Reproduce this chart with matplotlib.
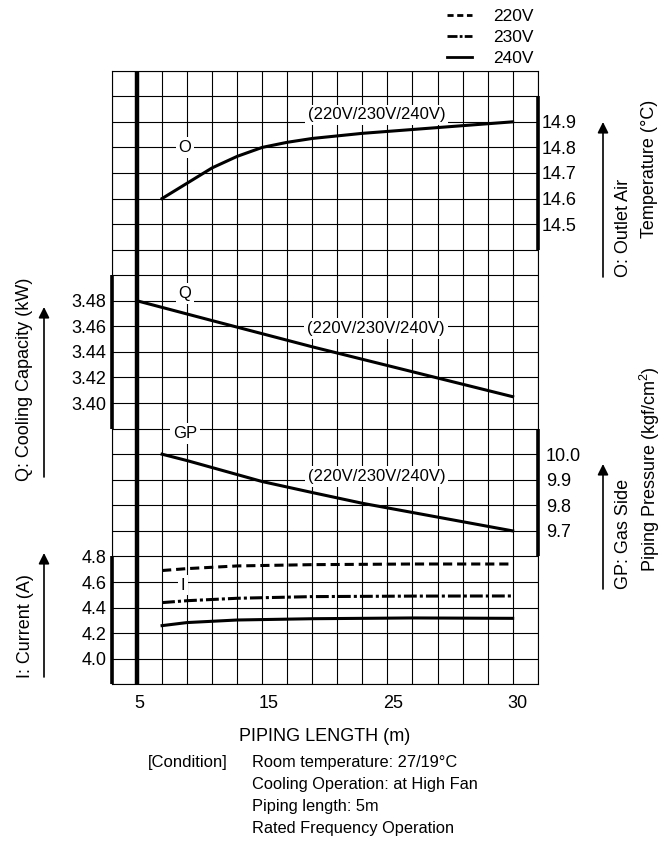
import numpy as np
import matplotlib.pyplot as plt
from matplotlib.lines import Line2D

plt.rcParams['font.family'] = ['Liberation Sans', 'DejaVu Sans']
plt.rcParams['font.size'] = 13
plt.rcParams['mathtext.fontset'] = 'custom'
plt.rcParams['mathtext.rm'] = 'Liberation Sans'

W, H = 669, 843

def px(x, y):
    # pixel position (top-left origin) -> figure fraction
    return x / W, 1 - y / H

# x is in grid columns: the printed length scale is not linear
x_ticks = [1.08, 6.24, 11.24, 16.2]
x_labels = ['5', '15', '25', '30']

o_x = [2, 3, 4, 5, 6, 7, 8, 10, 12, 14, 16]
o_val = [14.60, 14.66, 14.72, 14.765, 14.80, 14.82, 14.835, 14.855, 14.87, 14.885, 14.90]

q_x = [1, 4, 8, 12, 16]
q_val = [3.480, 3.4645, 3.444, 3.4245, 3.405]

gp_x = [2, 3, 6, 8, 10, 12, 14, 16]
gp_val = [10.0, 9.975, 9.893, 9.85, 9.808, 9.772, 9.736, 9.70]

i_x = [2, 3, 5, 8, 12, 16]
i_220 = [4.69, 4.705, 4.726, 4.736, 4.741, 4.741]
i_230 = [4.439, 4.454, 4.473, 4.486, 4.49, 4.491]
i_240 = [4.259, 4.283, 4.303, 4.313, 4.319, 4.316]

o_ticks = [14.5, 14.6, 14.7, 14.8, 14.9]
q_ticks = [3.40, 3.42, 3.44, 3.46, 3.48]
gp_ticks = [9.7, 9.8, 9.9, 10.0]
i_ticks = [4.0, 4.2, 4.4, 4.6, 4.8]

fig = plt.figure(figsize=(W / 100, H / 100), dpi=100)
ax = fig.add_axes([112 / W, 1 - 684.3 / H, 425.7 / W, 613.6 / H])
ax.set_xlim(0, 17)
ax.set_ylim(0, 24)
ax.set_xticks(np.arange(18), minor=True)
ax.set_yticks(np.arange(25), minor=True)
ax.set_yticks([])
ax.set_xticks(x_ticks, x_labels)
ax.grid(which='minor', color='k', lw=0.8)
ax.tick_params(which='both', length=0)
ax.tick_params(axis='x', pad=8)
for s in ax.spines.values():
    s.set_linewidth(0.8)
ax.axvline(1, color='k', lw=3.2)
ax.set_xlabel('PIPING LENGTH (m)', labelpad=11)


def twin(lo, hi, side, ticks, fmt, pad):
    t = ax.twinx()
    t.set_ylim(lo, hi)
    for s in t.spines.values():
        s.set_visible(False)
    t.yaxis.set_ticks_position(side)
    t.set_yticks(ticks, [fmt.format(v) for v in ticks])
    t.tick_params(length=0, pad=pad)
    return t


ax_o = twin(12.7, 15.1, 'right', o_ticks, '{:.1f}', 3)
ax_q = twin(3.18, 3.66, 'left', q_ticks, '{:.2f}', 4)
ax_gp = twin(9.1, 11.5, 'right', gp_ticks, '{:.1f}', 6)
ax_i = twin(3.8, 8.6, 'left', i_ticks, '{:.1f}', 4)

bar = dict(color='k', lw=2.6, clip_on=False, solid_capstyle='butt')
ax_o.plot([17, 17], [14.4, 15.0], **bar)
ax_q.plot([0, 0], [3.38, 3.50], **bar)
ax_gp.plot([17, 17], [9.6, 10.1], **bar)
ax_i.plot([0, 0], [3.8, 4.8], **bar)

lw = 2.2
ax_o.plot(o_x, o_val, color='k', lw=lw)
ax_q.plot(q_x, q_val, color='k', lw=lw)
ax_gp.plot(gp_x, gp_val, color='k', lw=lw)
ax_i.plot(i_x, i_220, color='k', lw=lw, dashes=(3.0, 1.6))
ax_i.plot(i_x, i_230, color='k', lw=lw, dashes=(4.2, 1.0, 1.0, 1.0))
ax_i.plot(i_x, i_240, color='k', lw=lw)

box = dict(fc='white', ec='none', pad=2)
volt = '(220V/230V/240V)'
for x, y, s in [(2.92, 21.0, 'O'), (10.56, 22.27, volt), (2.92, 15.29, 'Q'),
                (10.54, 13.92, volt), (2.92, 9.82, 'GP'), (10.56, 8.12, volt),
                (2.84, 3.88, 'I')]:
    ax.text(x, y, s, ha='center', va='center', fontsize=12, bbox=box)

# legend keys drawn shorter than the plotted lines, as in the original
keys = [Line2D([], [], color='k', lw=2, dashes=(2.2, 1.3)),
        Line2D([], [], color='k', lw=2, dashes=(3.6, 0.8, 1.0, 0.8)),
        Line2D([], [], color='k', lw=2)]
fig.legend(keys, ['220V', '230V', '240V'], loc='upper left',
           bbox_to_anchor=px(447, 9), frameon=False, handlelength=1.45,
           handletextpad=1.2, labelspacing=0.33, borderpad=0, borderaxespad=0,
           fontsize=12.5)

# side labels with arrows
fig.text(*px(25, 379), 'Q: Cooling Capacity (kW)', rotation=90, ha='center', va='center')
fig.text(*px(25, 626), 'I: Current (A)', rotation=90, ha='center', va='center')
fig.text(*px(624, 277), 'O: Outlet Air', rotation=90, ha='center', va='bottom')
fig.text(*px(650, 238), 'Temperature (°C)', rotation=90, ha='center', va='bottom')
fig.text(*px(624, 589), 'GP: Gas Side', rotation=90, ha='center', va='bottom')
fig.text(*px(650, 572), r'Piping Pressure (kgf/cm$^{2}$)', rotation=90, ha='center', va='bottom')

arrow = dict(arrowstyle='-|>', color='k', lw=1.2, mutation_scale=16, shrinkA=0, shrinkB=0)
for x, y0, y1 in [(44, 477, 307), (44, 677, 553), (603, 277, 122), (603, 589, 464)]:
    fig.add_artist(plt.Annotation('', xy=px(x, y1), xytext=px(x, y0),
                                  xycoords='figure fraction', arrowprops=arrow))

fig.text(*px(148, 762), '[Condition]', va='center', fontsize=12)
cond = ['Room temperature: 27/19°C', 'Cooling Operation: at High Fan',
        'Piping length: 5m', 'Rated Frequency Operation']
for k, line in enumerate(cond):
    fig.text(*px(252, 762 + 22 * k), line, va='center', fontsize=11.8)

fig.savefig('out.png', dpi=100)
